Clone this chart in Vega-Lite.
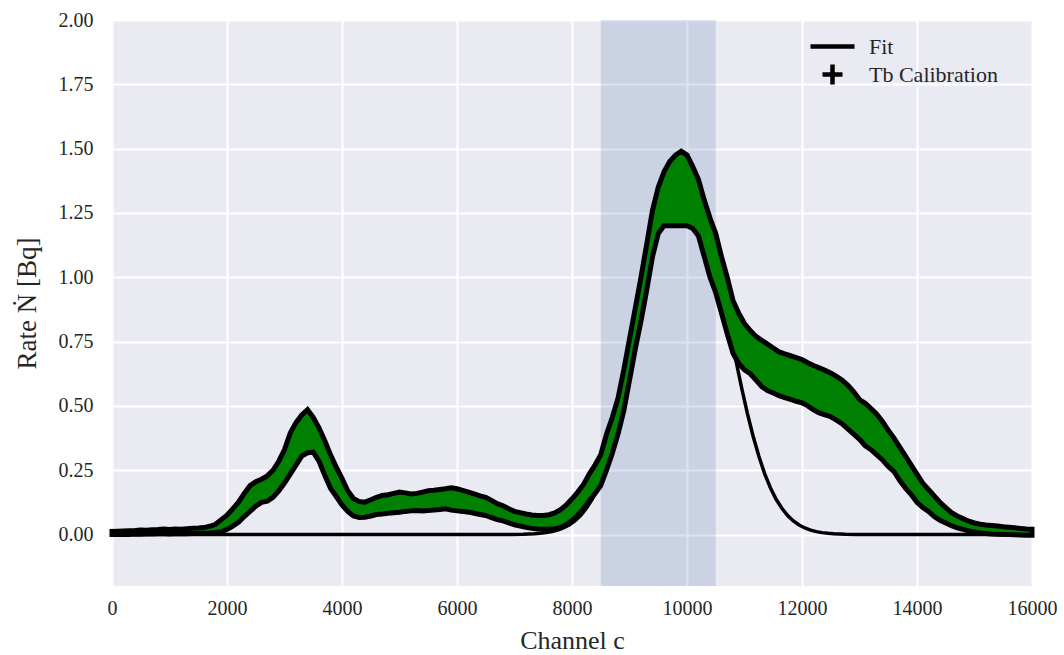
{
  "$schema": "https://vega.github.io/schema/vega-lite/v6.json",
  "autosize": {"type": "none"},
  "padding": {"left": 112, "top": 20, "right": 32, "bottom": 69},
  "width": 920,
  "height": 566,
  "background": "white",
  "config": {
    "view": {"fill": "#EAEAF2", "stroke": null},
    "axis": {
      "domain": false, "ticks": false, "grid": true, "gridColor": "white", "gridWidth": 2,
      "labelFont": "Liberation Serif", "labelFontSize": 20, "labelColor": "#262626",
      "titleFont": "Liberation Serif", "titleFontSize": 26, "titleFontWeight": "normal", "titleColor": "#262626",
      "labelFlush": false, "labelOverlap": false
    },
    "legend": {
      "labelFont": "Liberation Serif", "labelFontSize": 22, "labelColor": "#262626"
    }
  },
  "datasets": {
    "spec": [
      {"c": 0, "lo": 0.000, "hi": 0.012}, {"c": 100, "lo": 0.000, "hi": 0.013}, {"c": 200, "lo": 0.001, "hi": 0.014},
      {"c": 300, "lo": 0.000, "hi": 0.015}, {"c": 400, "lo": 0.002, "hi": 0.016}, {"c": 500, "lo": 0.001, "hi": 0.018},
      {"c": 600, "lo": 0.002, "hi": 0.017}, {"c": 700, "lo": 0.002, "hi": 0.019}, {"c": 800, "lo": 0.003, "hi": 0.020},
      {"c": 900, "lo": 0.003, "hi": 0.022}, {"c": 1000, "lo": 0.002, "hi": 0.020}, {"c": 1100, "lo": 0.003, "hi": 0.022},
      {"c": 1200, "lo": 0.004, "hi": 0.021}, {"c": 1300, "lo": 0.003, "hi": 0.023}, {"c": 1400, "lo": 0.004, "hi": 0.024},
      {"c": 1500, "lo": 0.004, "hi": 0.025}, {"c": 1600, "lo": 0.005, "hi": 0.027}, {"c": 1700, "lo": 0.006, "hi": 0.032},
      {"c": 1800, "lo": 0.008, "hi": 0.040}, {"c": 1900, "lo": 0.011, "hi": 0.058}, {"c": 2000, "lo": 0.020, "hi": 0.075},
      {"c": 2100, "lo": 0.033, "hi": 0.100}, {"c": 2200, "lo": 0.048, "hi": 0.126}, {"c": 2300, "lo": 0.070, "hi": 0.160},
      {"c": 2400, "lo": 0.090, "hi": 0.190}, {"c": 2500, "lo": 0.110, "hi": 0.205}, {"c": 2600, "lo": 0.125, "hi": 0.215},
      {"c": 2700, "lo": 0.130, "hi": 0.228}, {"c": 2800, "lo": 0.145, "hi": 0.250}, {"c": 2900, "lo": 0.170, "hi": 0.285},
      {"c": 3000, "lo": 0.200, "hi": 0.330}, {"c": 3100, "lo": 0.235, "hi": 0.395}, {"c": 3200, "lo": 0.270, "hi": 0.435},
      {"c": 3300, "lo": 0.305, "hi": 0.465}, {"c": 3400, "lo": 0.318, "hi": 0.485}, {"c": 3500, "lo": 0.320, "hi": 0.455},
      {"c": 3600, "lo": 0.285, "hi": 0.415}, {"c": 3700, "lo": 0.230, "hi": 0.365}, {"c": 3800, "lo": 0.180, "hi": 0.310},
      {"c": 3900, "lo": 0.148, "hi": 0.262}, {"c": 4000, "lo": 0.115, "hi": 0.218}, {"c": 4100, "lo": 0.090, "hi": 0.170},
      {"c": 4200, "lo": 0.072, "hi": 0.140}, {"c": 4300, "lo": 0.066, "hi": 0.128}, {"c": 4400, "lo": 0.067, "hi": 0.126},
      {"c": 4500, "lo": 0.072, "hi": 0.135}, {"c": 4600, "lo": 0.078, "hi": 0.145}, {"c": 4700, "lo": 0.080, "hi": 0.152},
      {"c": 4800, "lo": 0.083, "hi": 0.155}, {"c": 4900, "lo": 0.085, "hi": 0.160}, {"c": 5000, "lo": 0.087, "hi": 0.165},
      {"c": 5100, "lo": 0.090, "hi": 0.162}, {"c": 5200, "lo": 0.092, "hi": 0.158}, {"c": 5300, "lo": 0.093, "hi": 0.160},
      {"c": 5400, "lo": 0.092, "hi": 0.165}, {"c": 5500, "lo": 0.093, "hi": 0.170}, {"c": 5600, "lo": 0.095, "hi": 0.172},
      {"c": 5700, "lo": 0.097, "hi": 0.175}, {"c": 5800, "lo": 0.100, "hi": 0.178}, {"c": 5900, "lo": 0.095, "hi": 0.182},
      {"c": 6000, "lo": 0.092, "hi": 0.178}, {"c": 6100, "lo": 0.090, "hi": 0.172}, {"c": 6200, "lo": 0.087, "hi": 0.165},
      {"c": 6300, "lo": 0.083, "hi": 0.158}, {"c": 6400, "lo": 0.078, "hi": 0.150}, {"c": 6500, "lo": 0.074, "hi": 0.145},
      {"c": 6600, "lo": 0.066, "hi": 0.133}, {"c": 6700, "lo": 0.058, "hi": 0.120}, {"c": 6800, "lo": 0.053, "hi": 0.112},
      {"c": 6900, "lo": 0.045, "hi": 0.100}, {"c": 7000, "lo": 0.038, "hi": 0.090}, {"c": 7100, "lo": 0.033, "hi": 0.085},
      {"c": 7200, "lo": 0.028, "hi": 0.080}, {"c": 7300, "lo": 0.024, "hi": 0.076}, {"c": 7400, "lo": 0.022, "hi": 0.074},
      {"c": 7500, "lo": 0.021, "hi": 0.074}, {"c": 7600, "lo": 0.022, "hi": 0.077}, {"c": 7700, "lo": 0.023, "hi": 0.084},
      {"c": 7800, "lo": 0.027, "hi": 0.097}, {"c": 7900, "lo": 0.038, "hi": 0.115}, {"c": 8000, "lo": 0.054, "hi": 0.139},
      {"c": 8100, "lo": 0.075, "hi": 0.165}, {"c": 8200, "lo": 0.100, "hi": 0.195}, {"c": 8300, "lo": 0.130, "hi": 0.235},
      {"c": 8400, "lo": 0.160, "hi": 0.270}, {"c": 8500, "lo": 0.190, "hi": 0.310}, {"c": 8600, "lo": 0.250, "hi": 0.390},
      {"c": 8700, "lo": 0.315, "hi": 0.455}, {"c": 8800, "lo": 0.390, "hi": 0.530}, {"c": 8900, "lo": 0.480, "hi": 0.640},
      {"c": 9000, "lo": 0.600, "hi": 0.760}, {"c": 9100, "lo": 0.720, "hi": 0.880}, {"c": 9200, "lo": 0.830, "hi": 1.000},
      {"c": 9300, "lo": 0.950, "hi": 1.130}, {"c": 9400, "lo": 1.080, "hi": 1.260}, {"c": 9500, "lo": 1.170, "hi": 1.350},
      {"c": 9600, "lo": 1.200, "hi": 1.410}, {"c": 9700, "lo": 1.200, "hi": 1.450}, {"c": 9800, "lo": 1.200, "hi": 1.475},
      {"c": 9900, "lo": 1.200, "hi": 1.490}, {"c": 10000, "lo": 1.200, "hi": 1.475}, {"c": 10100, "lo": 1.190, "hi": 1.430},
      {"c": 10200, "lo": 1.160, "hi": 1.380}, {"c": 10300, "lo": 1.080, "hi": 1.300}, {"c": 10400, "lo": 1.000, "hi": 1.230},
      {"c": 10500, "lo": 0.940, "hi": 1.170}, {"c": 10600, "lo": 0.860, "hi": 1.080}, {"c": 10700, "lo": 0.780, "hi": 1.000},
      {"c": 10800, "lo": 0.705, "hi": 0.910}, {"c": 10900, "lo": 0.665, "hi": 0.860}, {"c": 11000, "lo": 0.640, "hi": 0.820},
      {"c": 11100, "lo": 0.625, "hi": 0.793}, {"c": 11200, "lo": 0.600, "hi": 0.770}, {"c": 11300, "lo": 0.575, "hi": 0.755},
      {"c": 11400, "lo": 0.560, "hi": 0.740}, {"c": 11500, "lo": 0.550, "hi": 0.725}, {"c": 11600, "lo": 0.540, "hi": 0.710},
      {"c": 11700, "lo": 0.532, "hi": 0.702}, {"c": 11800, "lo": 0.525, "hi": 0.695}, {"c": 11900, "lo": 0.518, "hi": 0.688},
      {"c": 12000, "lo": 0.512, "hi": 0.680}, {"c": 12100, "lo": 0.500, "hi": 0.668}, {"c": 12200, "lo": 0.485, "hi": 0.657},
      {"c": 12300, "lo": 0.473, "hi": 0.648}, {"c": 12400, "lo": 0.465, "hi": 0.638}, {"c": 12500, "lo": 0.458, "hi": 0.628},
      {"c": 12600, "lo": 0.445, "hi": 0.615}, {"c": 12700, "lo": 0.430, "hi": 0.600}, {"c": 12800, "lo": 0.410, "hi": 0.580},
      {"c": 12900, "lo": 0.390, "hi": 0.555}, {"c": 13000, "lo": 0.370, "hi": 0.525}, {"c": 13100, "lo": 0.345, "hi": 0.510},
      {"c": 13200, "lo": 0.330, "hi": 0.490}, {"c": 13300, "lo": 0.310, "hi": 0.468}, {"c": 13400, "lo": 0.290, "hi": 0.440},
      {"c": 13500, "lo": 0.265, "hi": 0.405}, {"c": 13600, "lo": 0.245, "hi": 0.375}, {"c": 13700, "lo": 0.210, "hi": 0.340},
      {"c": 13800, "lo": 0.180, "hi": 0.305}, {"c": 13900, "lo": 0.155, "hi": 0.270}, {"c": 14000, "lo": 0.125, "hi": 0.235},
      {"c": 14100, "lo": 0.105, "hi": 0.200}, {"c": 14200, "lo": 0.090, "hi": 0.175}, {"c": 14300, "lo": 0.070, "hi": 0.150},
      {"c": 14400, "lo": 0.055, "hi": 0.125}, {"c": 14500, "lo": 0.045, "hi": 0.105}, {"c": 14600, "lo": 0.034, "hi": 0.085},
      {"c": 14700, "lo": 0.026, "hi": 0.072}, {"c": 14800, "lo": 0.020, "hi": 0.062}, {"c": 14900, "lo": 0.014, "hi": 0.052},
      {"c": 15000, "lo": 0.010, "hi": 0.045}, {"c": 15100, "lo": 0.006, "hi": 0.040}, {"c": 15200, "lo": 0.004, "hi": 0.037},
      {"c": 15300, "lo": 0.002, "hi": 0.035}, {"c": 15400, "lo": 0.001, "hi": 0.033}, {"c": 15500, "lo": 0.000, "hi": 0.030},
      {"c": 15600, "lo": 0.000, "hi": 0.028}, {"c": 15700, "lo": -0.001, "hi": 0.026}, {"c": 15800, "lo": -0.002, "hi": 0.024},
      {"c": 15900, "lo": -0.003, "hi": 0.022}, {"c": 16000, "lo": -0.003, "hi": 0.021}
    ],
    "fit": [
      {"c": 0, "rate": 0}, {"c": 6000, "rate": 0}, {"c": 6950, "rate": 0.0004}, {"c": 7150, "rate": 0.0011},
      {"c": 7350, "rate": 0.003}, {"c": 7450, "rate": 0.0047}, {"c": 7550, "rate": 0.0074}, {"c": 7650, "rate": 0.0114},
      {"c": 7750, "rate": 0.0171}, {"c": 7850, "rate": 0.0254}, {"c": 7950, "rate": 0.0369}, {"c": 8050, "rate": 0.0527},
      {"c": 8150, "rate": 0.0739}, {"c": 8250, "rate": 0.102}, {"c": 8350, "rate": 0.137}, {"c": 8450, "rate": 0.182},
      {"c": 8550, "rate": 0.237}, {"c": 8650, "rate": 0.304}, {"c": 8750, "rate": 0.382}, {"c": 8850, "rate": 0.471},
      {"c": 8950, "rate": 0.570}, {"c": 9050, "rate": 0.678}, {"c": 9150, "rate": 0.792}, {"c": 9250, "rate": 0.908},
      {"c": 9350, "rate": 1.022}, {"c": 9450, "rate": 1.130}, {"c": 9550, "rate": 1.227}, {"c": 9650, "rate": 1.308},
      {"c": 9750, "rate": 1.369}, {"c": 9850, "rate": 1.407}, {"c": 9950, "rate": 1.420}, {"c": 10050, "rate": 1.407},
      {"c": 10150, "rate": 1.369}, {"c": 10250, "rate": 1.308}, {"c": 10350, "rate": 1.227}, {"c": 10450, "rate": 1.130},
      {"c": 10550, "rate": 1.022}, {"c": 10650, "rate": 0.908}, {"c": 10750, "rate": 0.792}, {"c": 10850, "rate": 0.678},
      {"c": 10950, "rate": 0.570}, {"c": 11050, "rate": 0.471}, {"c": 11150, "rate": 0.382}, {"c": 11250, "rate": 0.304},
      {"c": 11350, "rate": 0.237}, {"c": 11450, "rate": 0.182}, {"c": 11550, "rate": 0.137}, {"c": 11650, "rate": 0.102},
      {"c": 11750, "rate": 0.0739}, {"c": 11850, "rate": 0.0527}, {"c": 11950, "rate": 0.0369}, {"c": 12050, "rate": 0.0254},
      {"c": 12150, "rate": 0.0171}, {"c": 12250, "rate": 0.0114}, {"c": 12350, "rate": 0.0074}, {"c": 12450, "rate": 0.0047},
      {"c": 12550, "rate": 0.003}, {"c": 12750, "rate": 0.0011}, {"c": 12950, "rate": 0.0004}, {"c": 14000, "rate": 0},
      {"c": 16000, "rate": 0}
    ],
    "span": [{"start": 8500, "end": 10500}],
    "keys": [{"series": "Fit", "c": 9900, "rate": 1.3}, {"series": "Tb Calibration", "c": 9900, "rate": 1.3}]
  },
  "encoding": {
    "x": {
      "type": "quantitative",
      "scale": {"domain": [0, 16000], "nice": false, "zero": false},
      "axis": {"title": "Channel c", "values": [0, 2000, 4000, 6000, 8000, 10000, 12000, 14000, 16000], "format": "d", "labelPadding": 12, "titlePadding": 9}
    }
  },
  "layer": [
    {
      "data": {"name": "span"},
      "mark": {"type": "rect", "color": "#4C72B0", "opacity": 0.2},
      "encoding": {
        "x": {"field": "start", "type": "quantitative"},
        "x2": {"field": "end"},
        "y": {"datum": -0.2, "type": "quantitative", "scale": {"domain": [-0.2, 2.0], "nice": false, "zero": false},
              "axis": {"title": "Rate Ṅ [Bq]", "titleFontSize": 27, "values": [0, 0.25, 0.5, 0.75, 1.0, 1.25, 1.5, 1.75, 2.0], "format": ".2f", "labelPadding": 19, "titlePadding": 17}},
        "y2": {"datum": 2.0}
      }
    },
    {
      "data": {"name": "fit"},
      "mark": {"type": "line", "color": "black", "strokeWidth": 3.5},
      "encoding": {
        "x": {"field": "c", "type": "quantitative"},
        "y": {"field": "rate", "type": "quantitative"}
      }
    },
    {
      "data": {"name": "keys"},
      "mark": {"type": "point", "filled": false, "stroke": "black", "opacity": 0},
      "encoding": {
        "x": {"field": "c", "type": "quantitative"},
        "y": {"field": "rate", "type": "quantitative"},
        "shape": {
          "field": "series", "type": "nominal",
          "scale": {"domain": ["Fit", "Tb Calibration"], "range": ["M-2.2,0H2.2", "M-1,0H1M0,-1V1"]},
          "legend": {
            "title": null, "orient": "none", "legendX": 708, "legendY": 14,
            "symbolSize": 400, "symbolStrokeWidth": 4.5, "symbolStrokeColor": "black", "symbolFillColor": "transparent",
            "symbolOpacity": 1, "labelOffset": 24, "rowPadding": -3, "padding": 0
          }
        }
      }
    },
    {
      "data": {"name": "spec"},
      "mark": {"type": "area", "fill": "#008000", "stroke": "black", "strokeWidth": 5, "strokeJoin": "miter"},
      "encoding": {
        "x": {"field": "c", "type": "quantitative"},
        "y": {"field": "lo", "type": "quantitative"},
        "y2": {"field": "hi"}
      }
    }
  ]
}
